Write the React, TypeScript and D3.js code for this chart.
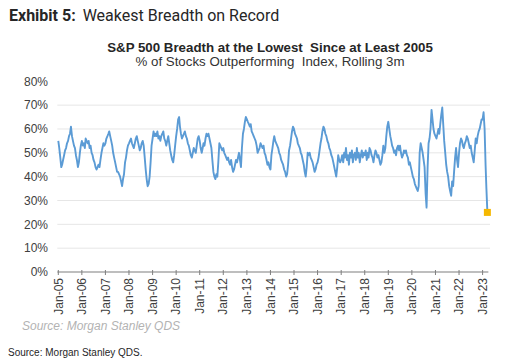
import { useEffect, useRef } from 'react'
import * as d3 from 'd3'

// ── data: % of S&P 500 stocks outperforming index, rolling 3m (two readings / month) ──
const b2005 = [55, 52, 48, 44, 45, 47, 49, 51, 52, 54, 55, 57, 58, 61, 57, 55, 53, 52, 49, 47, 44, 46, 50, 53]
const b2006 = [55, 53, 54, 52, 56, 55, 54, 55, 52, 53, 50, 49, 47, 46, 44, 43, 44, 45, 44, 47, 50, 52, 54, 53]
const b2007 = [54, 56, 57, 58, 59, 57, 55, 53, 50, 48, 46, 44, 42, 42, 41, 40, 38, 36, 39, 41, 46, 48, 51, 53]
const b2008 = [54, 55, 56, 54, 53, 52, 54, 56, 57, 55, 53, 51, 52, 54, 55, 53, 48, 43, 39, 36, 37, 40, 46, 53]
const b2009 = [56, 59, 57, 58, 57, 59, 56, 57, 55, 57, 58, 59, 56, 55, 53, 55, 57, 54, 51, 49, 47, 46, 49, 53]
const b2010 = [57, 60, 64, 65, 61, 58, 56, 57, 58, 59, 57, 56, 54, 53, 51, 49, 48, 50, 52, 51, 50, 53, 56, 57]
const b2011 = [55, 52, 50, 52, 54, 53, 56, 58, 57, 58, 56, 54, 52, 47, 42, 40, 39, 41, 40, 46, 54, 53, 52, 51]
const b2012 = [52, 50, 49, 48, 47, 48, 46, 45, 47, 44, 42, 43, 45, 47, 46, 48, 50, 47, 44, 52, 58, 60, 63, 65]
const b2013 = [64, 63, 62, 61, 62, 59, 58, 57, 56, 55, 53, 50, 51, 52, 54, 53, 52, 53, 50, 49, 47, 45, 46, 44]
const b2014 = [43, 49, 52, 55, 57, 55, 54, 53, 52, 50, 49, 47, 46, 45, 43, 42, 40, 41, 45, 51, 53, 56, 59, 61]
const b2015 = [60, 58, 57, 56, 54, 53, 52, 50, 49, 47, 45, 42, 40, 44, 50, 49, 50, 48, 47, 46, 44, 42, 43, 45]
const b2016 = [46, 48, 51, 54, 56, 59, 61, 60, 58, 57, 55, 54, 52, 51, 49, 48, 46, 44, 42, 40, 44, 49, 47, 46]
const b2017 = [47, 49, 46, 50, 48, 52, 47, 49, 45, 50, 48, 51, 46, 49, 50, 47, 52, 48, 50, 46, 49, 51, 48, 50]
const b2018 = [49, 51, 47, 50, 48, 52, 51, 49, 48, 46, 49, 51, 50, 48, 49, 47, 45, 46, 49, 53, 50, 52, 57, 61]
const b2019 = [63, 60, 57, 55, 53, 52, 50, 51, 49, 52, 53, 51, 53, 50, 48, 49, 51, 50, 51, 49, 48, 45, 46, 44]
const b2020 = [42, 40, 39, 37, 36, 35, 34, 36, 50, 54, 52, 50, 47, 44, 33, 27, 44, 54, 56, 60, 68, 64, 60, 58]
const b2021 = [57, 56, 58, 60, 58, 62, 66, 69, 62, 55, 50, 45, 42, 40, 36, 34, 32, 38, 36, 42, 48, 52, 47, 44]
const b2022 = [50, 54, 56, 55, 53, 52, 54, 55, 57, 56, 54, 52, 53, 50, 48, 46, 51, 56, 54, 57, 59, 60, 62, 64]
const b2023 = [64, 67, 60, 45, 35, 25]
const seriesByYear = [b2005, b2006, b2007, b2008, b2009, b2010, b2011, b2012, b2013, b2014,
  b2015, b2016, b2017, b2018, b2019, b2020, b2021, b2022, b2023]
const FIRST_YEAR = 2005

const yTicks  = [0, 10, 20, 30, 40, 50, 60, 70, 80]
const xYears  = d3.range(2005, 2024)

// ── constants ────────────────────────────────────────────────────────────────
const W = 522
const H = 364
const PLOT = { x0: 58.3, x1: 482.6, y0: 272, y1: 81.3 }   // Jan-05 .. Jan-23, 0% .. 80%
const C_LINE  = '#5b9bd5'
const C_MARK  = '#f5b800'
const C_GRID  = '#e6e6e6'
const C_AXIS  = '#7f7f7f'
const C_TXT   = '#404040'
const FONT    = '"Liberation Sans", Arial, sans-serif'

type Pt = { date: Date; v: number }

const points: Pt[] = seriesByYear.flatMap((arr, yi) =>
  arr.map((v, i) => ({ date: new Date(FIRST_YEAR + yi, Math.floor(i / 2), i % 2 ? 16 : 1), v })))

export default function App() {
  const ref = useRef<SVGSVGElement>(null)

  useEffect(() => {
    if (!ref.current) return
    const svg = d3.select(ref.current)
    svg.selectAll('*').remove()

    const x = d3.scaleTime()
      .domain([new Date(2005, 0, 1), new Date(2023, 0, 1)])
      .range([PLOT.x0, PLOT.x1])
    const y = d3.scaleLinear().domain([0, 80]).range([PLOT.y0, PLOT.y1])
    const last = points[points.length - 1]
    const xEnd = x(last.date) + 1

    svg.append('rect').attr('width', W).attr('height', H).attr('fill', '#fff')

    // ── titles ───────────────────────────────────────────────────────────────
    const t = svg.append('text')
      .attr('x', 9).attr('y', 21)
      .attr('font-family', 'Roboto, sans-serif').attr('font-size', 16).attr('fill', '#262626')
    t.append('tspan').attr('font-weight', 700).text('Exhibit 5:')
    t.append('tspan').attr('dx', 7).text('Weakest Breadth on Record')

    svg.append('text')
      .attr('x', 270).attr('y', 52).attr('text-anchor', 'middle')
      .style('white-space', 'pre')
      .attr('font-family', FONT).attr('font-size', 13.3).attr('font-weight', 700).attr('fill', '#262626')
      .text('S&P 500 Breadth at the Lowest  Since at Least 2005')

    svg.append('text')
      .attr('x', 270).attr('y', 66).attr('text-anchor', 'middle')
      .style('white-space', 'pre')
      .attr('font-family', FONT).attr('font-size', 13.3).attr('fill', '#333')
      .text('% of Stocks Outperforming  Index, Rolling 3m')

    // ── grid ─────────────────────────────────────────────────────────────────
    svg.append('g')
      .selectAll('line')
      .data(yTicks.filter(v => v > 0 && v < 80))
      .join('line')
        .attr('x1', PLOT.x0 - 1).attr('x2', 490)
        .attr('y1', v => y(v)).attr('y2', v => y(v))
        .attr('stroke', C_GRID).attr('stroke-width', 1)

    // ── y labels ─────────────────────────────────────────────────────────────
    svg.append('g')
      .selectAll('text')
      .data(yTicks)
      .join('text')
        .attr('x', 48).attr('y', v => y(v))
        .attr('dy', '0.35em').attr('text-anchor', 'end')
        .attr('font-family', FONT).attr('font-size', 12).attr('fill', C_TXT)
        .text(v => `${v}%`)

    // ── x axis ───────────────────────────────────────────────────────────────
    const ax = svg.append('g')
    ax.append('line')
      .attr('x1', PLOT.x0 - 1).attr('x2', xEnd)
      .attr('y1', PLOT.y0).attr('y2', PLOT.y0)
      .attr('stroke', C_AXIS).attr('stroke-width', 1.2)
    ax.selectAll('line.tk')
      .data(xYears)
      .join('line')
        .attr('class', 'tk')
        .attr('x1', d => x(new Date(d, 0, 1))).attr('x2', d => x(new Date(d, 0, 1)))
        .attr('y1', PLOT.y0 - 2).attr('y2', PLOT.y0 + 3)
        .attr('stroke', C_AXIS).attr('stroke-width', 1)
    ax.selectAll('text')
      .data(xYears)
      .join('text')
        .attr('transform', d => `translate(${x(new Date(d, 0, 1))},${PLOT.y0 + 6}) rotate(-90)`)
        .attr('text-anchor', 'end').attr('dy', '0.35em')
        .attr('font-family', FONT).attr('font-size', 12).attr('fill', C_TXT)
        .text(d => `Jan-${String(d).slice(2)}`)

    // ── series ───────────────────────────────────────────────────────────────
    const line = d3.line<Pt>().x(d => x(d.date)).y(d => y(d.v))
    svg.append('path').datum(points)
      .attr('fill', 'none')
      .attr('stroke', C_LINE)
      .attr('stroke-width', 1.9)
      .attr('stroke-linejoin', 'round')
      .attr('d', line)

    svg.append('rect')
      .attr('x', x(last.date) - 3.5).attr('y', y(last.v) - 3.5)
      .attr('width', 7).attr('height', 7)
      .attr('fill', C_MARK)

    // ── sources ──────────────────────────────────────────────────────────────
    svg.append('text')
      .attr('x', 22).attr('y', 330)
      .attr('font-family', FONT).attr('font-size', 12).attr('font-style', 'italic').attr('fill', '#b3b3b3')
      .text('Source: Morgan Stanley QDS')

    svg.append('text')
      .attr('x', 8).attr('y', 356)
      .attr('font-family', FONT).attr('font-size', 10).attr('fill', '#262626')
      .text('Source: Morgan Stanley QDS.')
  }, [])

  return (
    <svg
      ref={ref}
      width={W}
      height={H}
      viewBox={`0 0 ${W} ${H}`}
      style={{ position: 'absolute', left: 0, top: 0, display: 'block' }}
    />
  )
}
